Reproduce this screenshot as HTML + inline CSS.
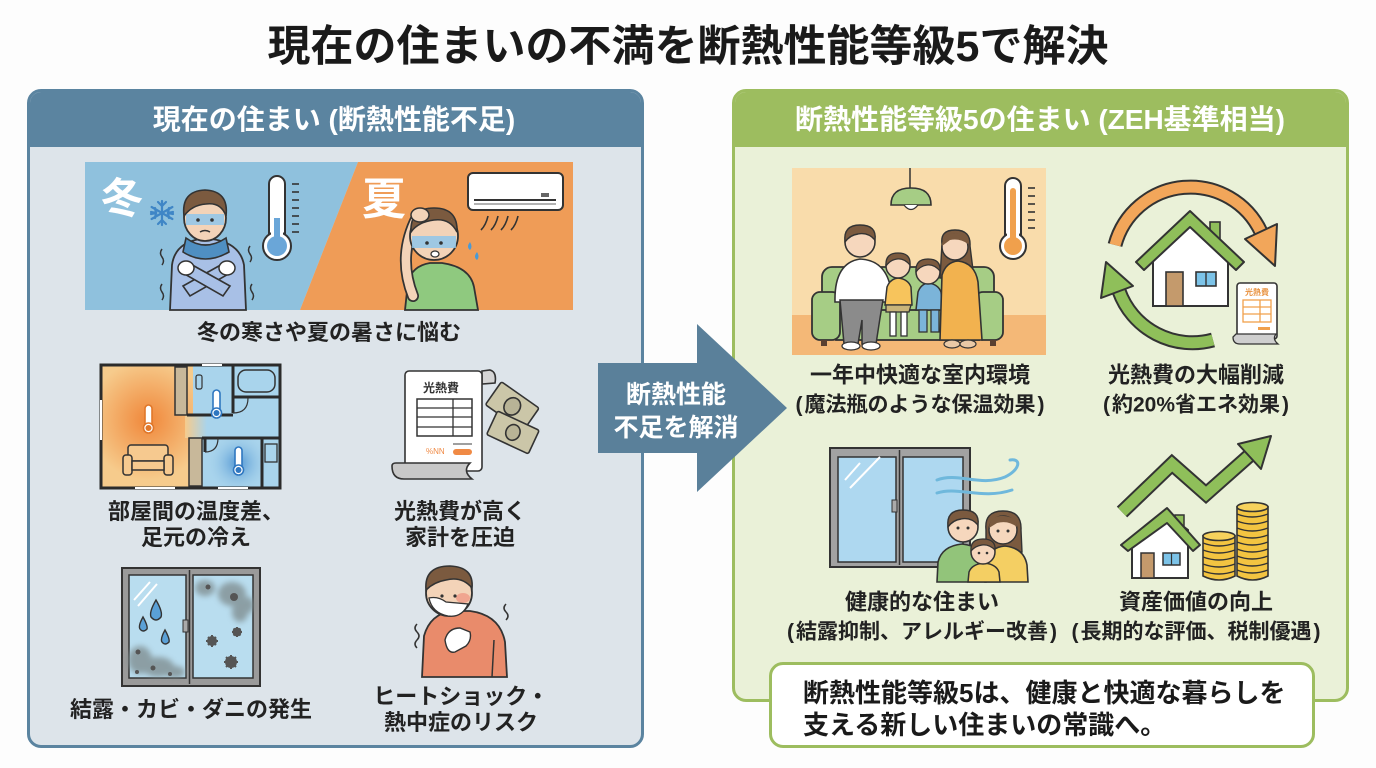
<!DOCTYPE html>
<html><head><meta charset="utf-8">
<style>
*{margin:0;padding:0;box-sizing:border-box}
body{width:1376px;height:768px;background:#fdfdfd;position:relative;overflow:hidden;font-family:"Liberation Sans","Noto Sans CJK JP",sans-serif;color:#222}
.t{position:absolute;transform:translate(-50%,-50%);text-align:center;font-weight:bold;white-space:nowrap}
.panel{position:absolute;border-radius:14px;overflow:hidden}
.p{margin:0 2px}
</style></head><body>

<div class="panel" style="left:27px;top:89px;width:617px;height:659px;border:3px solid #5b84a0;background:#dde4ea">
 <div style="height:55px;background:#5b84a0"></div>
</div>
<div class="panel" style="left:732px;top:89px;width:617px;height:613px;border:3px solid #9dbd5f;background:#eaf1d8">
 <div style="height:55px;background:#9dbd5f"></div>
</div>

<svg style="position:absolute;left:0;top:0" width="1376" height="768" viewBox="0 0 1376 768">
<defs>
 <radialGradient id="warm" gradientUnits="userSpaceOnUse" cx="148" cy="420" r="60">
  <stop offset="0" stop-color="#f0873a"/><stop offset="1" stop-color="#f6cb8c"/>
 </radialGradient>
 <radialGradient id="cold" gradientUnits="userSpaceOnUse" cx="238" cy="463" r="32">
  <stop offset="0" stop-color="#4d93d2"/><stop offset="1" stop-color="#a9d4ec" stop-opacity="0"/>
 </radialGradient>
 <linearGradient id="mid" x1="0" x2="1" y1="0" y2="0">
  <stop offset="0" stop-color="#f6cb8c"/><stop offset="1" stop-color="#a9d4ec"/>
 </linearGradient>
 <filter id="blur" x="-50%" y="-50%" width="200%" height="200%"><feGaussianBlur stdDeviation="3"/></filter>
</defs>

<!-- ===== Winter / Summer banner ===== -->
<polygon points="85,162 358,162 300,310 85,310" fill="#8fc1dd"/>
<polygon points="358,162 573,162 573,310 300,310" fill="#ef9c57"/>
<text x="122" y="213" text-anchor="middle" font-size="42" font-weight="bold" fill="#fff" font-family="Liberation Sans, Noto Sans CJK JP, sans-serif">冬</text>
<text x="384" y="214" text-anchor="middle" font-size="44" font-weight="bold" fill="#fff" font-family="Liberation Sans, Noto Sans CJK JP, sans-serif">夏</text>
<g stroke="#3f86c6" stroke-width="2.2" stroke-linecap="round" fill="none">
 <line x1="162" y1="201" x2="162" y2="225"/><line x1="151.6" y1="207" x2="172.4" y2="219"/><line x1="151.6" y1="219" x2="172.4" y2="207"/>
 <path d="M158,202 l4,4 l4,-4 M158,224 l4,-4 l4,4 M151,212 l5,1 l-1,-5 M173,212 l-5,1 l1,-5 M151,214 l5,-1 l-1,5 M173,214 l-5,-1 l1,5"/>
</g>
<!-- winter person -->
<path d="M170,310 L172,265 Q175,243 200,239 L212,239 Q240,243 244,265 L246,310 Z" fill="#a8c0e6" stroke="#333" stroke-width="1.8"/>
<path d="M183,286 L226,262 L232,272 L190,296 Z" fill="#a8c0e6" stroke="#333" stroke-width="1.6"/>
<path d="M230,286 L187,262 L181,272 L223,296 Z" fill="#a8c0e6" stroke="#333" stroke-width="1.6"/>
<ellipse cx="186" cy="268" rx="8" ry="7" fill="#fff" stroke="#333" stroke-width="1.5"/>
<ellipse cx="227" cy="268" rx="8" ry="7" fill="#fff" stroke="#333" stroke-width="1.5"/>
<path d="M186,238 Q205,252 226,238 L229,252 Q205,266 183,252 Z" fill="#4f8fc2" stroke="#333" stroke-width="1.6"/>
<ellipse cx="205" cy="218" rx="21" ry="23" fill="#f3d3b8" stroke="#333" stroke-width="1.8"/>
<rect x="186" y="214" width="38" height="11" fill="#8fc5ea" opacity="0.85"/>
<path d="M184,216 Q181,191 205,190 Q229,191 226,216 Q221,202 206,204 Q192,205 184,216 Z" fill="#7b5a3f" stroke="#333" stroke-width="1.6"/>
<circle cx="198" cy="220" r="1.8" fill="#333"/><circle cx="212" cy="220" r="1.8" fill="#333"/>
<path d="M200,232 Q205,229 210,232" fill="none" stroke="#333" stroke-width="1.5"/>
<g fill="none" stroke="#333" stroke-width="1.5"><path d="M162,265 q3,-4 0,-8 q-3,-4 0,-8"/><path d="M162,300 q3,-4 0,-8 q-3,-4 0,-8"/><path d="M252,300 q3,-4 0,-8 q-3,-4 0,-8"/><path d="M250,262 q3,-4 0,-8 q-3,-4 0,-8"/></g>
<!-- winter thermometer -->
<rect x="269" y="176" width="16" height="72" rx="8" fill="#fff" stroke="#333" stroke-width="2"/>
<circle cx="277" cy="246" r="14" fill="#fff" stroke="#333" stroke-width="2"/>
<rect x="271" y="230" width="12" height="12" fill="#fff"/>
<rect x="274" y="218" width="6" height="28" fill="#6aa6d8"/>
<circle cx="277" cy="246" r="10" fill="#6aa6d8"/>
<g stroke="#333" stroke-width="1.6"><line x1="292" y1="184" x2="299" y2="184"/><line x1="292" y1="192" x2="299" y2="192"/><line x1="292" y1="200" x2="299" y2="200"/><line x1="292" y1="208" x2="299" y2="208"/><line x1="292" y1="216" x2="299" y2="216"/><line x1="292" y1="224" x2="299" y2="224"/><line x1="292" y1="232" x2="299" y2="232"/></g>
<!-- summer person -->
<path d="M405,310 L408,282 Q412,266 430,263 L442,263 Q470,267 474,287 L478,310 Z" fill="#8fc97f" stroke="#333" stroke-width="1.8"/>
<path d="M413,296 Q397,256 417,217" fill="none" stroke="#333" stroke-width="12" stroke-linecap="round"/>
<path d="M413,296 Q397,256 417,217" fill="none" stroke="#f3d3b8" stroke-width="8.5" stroke-linecap="round"/>
<circle cx="434" cy="236" r="24" fill="#f3d3b8" stroke="#333" stroke-width="1.8"/>
<rect x="412" y="236" width="44" height="12" fill="#8fc5ea" opacity="0.85"/>
<path d="M411,232 Q410,208 434,208 Q458,208 457,232 Q450,218 434,220 Q418,222 411,232 Z" fill="#7b5a3f" stroke="#333" stroke-width="1.6"/>
<ellipse cx="420" cy="215" rx="9" ry="7" fill="#f3d3b8" stroke="#333" stroke-width="1.5"/>
<circle cx="427" cy="243" r="1.8" fill="#333"/><circle cx="441" cy="243" r="1.8" fill="#333"/>
<ellipse cx="435" cy="254" rx="4" ry="3" fill="#fff" stroke="#333" stroke-width="1.3"/>
<path d="M470,242 q3,5 0,8 q-4,-3 0,-8z" fill="#4a9ad6"/><path d="M477,252 q3,5 0,8 q-4,-3 0,-8z" fill="#4a9ad6"/>
<!-- AC -->
<rect x="468" y="173" width="95" height="37" rx="5" fill="#fff" stroke="#333" stroke-width="2"/>
<line x1="474" y1="200" x2="556" y2="200" stroke="#333" stroke-width="2"/>
<line x1="474" y1="204" x2="556" y2="204" stroke="#999" stroke-width="1.5"/>
<rect x="541" y="193" width="8" height="4" fill="#666"/>
<g fill="none" stroke="#333" stroke-width="1.6"><path d="M488,216 q-2,9 -7,14"/><path d="M498,216 q-2,9 -7,14"/><path d="M508,216 q-2,9 -7,14"/><path d="M518,216 q-2,9 -7,14"/></g>

<!-- ===== Floor plan ===== -->
<rect x="101" y="365" width="92" height="123" fill="url(#warm)"/>
<rect x="193" y="365" width="87" height="123" fill="#a9d4ec"/>
<rect x="185" y="415" width="22" height="23" fill="url(#mid)"/>
<rect x="200" y="438" width="70" height="50" fill="url(#cold)"/>
<rect x="175" y="367" width="12" height="48" fill="#c8b89a" stroke="#333" stroke-width="1.5"/>
<rect x="189" y="438" width="13" height="48" fill="#c8b89a" stroke="#333" stroke-width="1.5"/>
<g stroke="#2b2b2b" stroke-width="3" fill="none">
 <line x1="187" y1="415" x2="233" y2="415"/><line x1="233" y1="365" x2="233" y2="413"/>
 <line x1="233" y1="397" x2="280" y2="397"/><line x1="202" y1="438" x2="280" y2="438"/>
 <line x1="205" y1="438" x2="205" y2="452"/><line x1="262" y1="438" x2="262" y2="488"/>
</g>
<rect x="238" y="370" width="37" height="22" rx="8" fill="none" stroke="#333" stroke-width="1.5"/>
<rect x="265" y="444" width="12" height="18" fill="none" stroke="#333" stroke-width="1.3"/>
<rect x="196" y="375" width="6" height="14" rx="2" fill="none" stroke="#333" stroke-width="1.2"/>
<path d="M233,413 Q248,413 248,398" fill="none" stroke="#333" stroke-width="1.2"/>
<path d="M205,452 Q218,452 218,438" fill="none" stroke="#333" stroke-width="1.2"/>
<rect x="101" y="365" width="179" height="123" fill="none" stroke="#2b2b2b" stroke-width="3"/>
<g stroke="#fff" stroke-width="2"><line x1="202" y1="365" x2="222" y2="365"/><line x1="135" y1="488" x2="175" y2="488"/><line x1="101" y1="400" x2="101" y2="440"/><line x1="218" y1="488" x2="248" y2="488"/></g>
<g stroke-width="1.6">
 <rect x="145" y="405" width="7" height="22" rx="3.5" fill="#fff" stroke="#e0772a"/><circle cx="148.5" cy="428" r="5" fill="#fff" stroke="#e0772a"/><circle cx="148.5" cy="428" r="3" fill="#e0772a"/>
 <rect x="213" y="390" width="7" height="22" rx="3.5" fill="#fff" stroke="#2f77c0"/><circle cx="216.5" cy="413" r="5" fill="#fff" stroke="#2f77c0"/><circle cx="216.5" cy="413" r="3" fill="#2f77c0"/>
 <rect x="235" y="447" width="7" height="22" rx="3.5" fill="#fff" stroke="#2f77c0"/><circle cx="238.5" cy="470" r="5" fill="#fff" stroke="#2f77c0"/><circle cx="238.5" cy="470" r="3" fill="#2f77c0"/>
</g>
<g fill="#f6c98f" stroke="#333" stroke-width="1.5">
 <rect x="128" y="445" width="40" height="16" rx="3"/>
 <rect x="123" y="455" width="9" height="20" rx="3"/><rect x="164" y="455" width="9" height="20" rx="3"/>
 <rect x="132" y="461" width="32" height="9"/>
</g>

<!-- ===== Bill ===== -->
<g stroke="#333" stroke-width="1.6">
 <g transform="rotate(35 512 405)"><rect x="490" y="392" width="46" height="28" rx="2" fill="#cbc6a8"/><ellipse cx="513" cy="406" rx="8" ry="9" fill="#b8b396"/></g>
 <g transform="rotate(25 512 432)"><rect x="490" y="419" width="46" height="26" rx="2" fill="#cbc6a8"/><ellipse cx="513" cy="432" rx="7" ry="8" fill="#b8b396"/></g>
 <path d="M482,371 L490,370 Q497,372 495,383 L482,384 Z" fill="#d5d5d5"/>
 <rect x="405" y="371" width="77" height="100" rx="4" fill="#fff"/>
 <path d="M392,466 Q392,479 404,479 L472,479 Q462,471 470,463 L396,463 Q392,463 392,466 Z" fill="#c8c8c8"/>
 <rect x="417" y="399" width="55" height="37" fill="#fff" stroke-width="1.5"/>
 <g stroke-width="1.3"><line x1="417" y1="408" x2="472" y2="408"/><line x1="417" y1="417" x2="472" y2="417"/><line x1="417" y1="427" x2="472" y2="427"/><line x1="453" y1="399" x2="453" y2="436"/></g>
</g>
<text x="441" y="392" text-anchor="middle" font-size="12" font-weight="bold" fill="#333" font-family="Liberation Sans, Noto Sans CJK JP, sans-serif">光熱費</text>
<text x="426" y="454" font-size="8" fill="#f08a45" font-family="Liberation Sans, sans-serif">%NN</text>
<line x1="453" y1="444" x2="472" y2="444" stroke="#666" stroke-width="1.2"/>
<rect x="453" y="449" width="19" height="6" rx="3" fill="#f08a45"/>

<!-- ===== Window (mold) ===== -->
<rect x="122" y="568" width="138" height="118" fill="#9a9a9a" stroke="#333" stroke-width="2"/>
<rect x="129" y="575" width="57" height="103" fill="#b9ddef" stroke="#333" stroke-width="1.5"/>
<rect x="193" y="575" width="60" height="103" fill="#b9ddef" stroke="#333" stroke-width="1.5"/>
<line x1="189.5" y1="570" x2="189.5" y2="684" stroke="#333" stroke-width="1.5"/>
<rect x="183" y="620" width="5" height="12" fill="#aaa" stroke="#333" stroke-width="1"/>
<g filter="url(#blur)" fill="#7d8a8c" opacity="0.75">
 <ellipse cx="140" cy="660" rx="12" ry="14"/><ellipse cx="158" cy="667" rx="16" ry="10"/><ellipse cx="175" cy="672" rx="10" ry="6"/>
 <ellipse cx="205" cy="588" rx="10" ry="8"/><ellipse cx="232" cy="594" rx="14" ry="12"/><ellipse cx="240" cy="612" rx="8" ry="10"/><ellipse cx="248" cy="605" rx="6" ry="8"/>
</g>
<g fill="#555"><circle cx="138" cy="652" r="2.5"/><circle cx="153" cy="668" r="2.5"/><circle cx="137" cy="672" r="2"/><circle cx="170" cy="674" r="2"/><circle cx="208" cy="587" r="2.5"/><circle cx="234" cy="597" r="4"/></g>
<g stroke="#fff" stroke-width="2"><line x1="134" y1="600" x2="150" y2="582"/><line x1="138" y1="606" x2="157" y2="584"/></g>
<g fill="#5aa0d6" stroke="#333" stroke-width="1.4">
 <path d="M156,600 Q149,612 151,617 Q156,623 161,617 Q163,612 156,600 Z"/>
 <path d="M143,617 Q138,626 140,629 Q143,633 147,629 Q148,626 143,617 Z"/>
 <path d="M165,630 Q160,639 162,642 Q165,646 169,642 Q170,639 165,630 Z"/>
</g>
<g stroke="#555" stroke-width="2" fill="#555">
 <circle cx="212" cy="641" r="4"/><path d="M206,641 h12 M212,635 v12 M208,637 l8,8 M216,637 l-8,8"/>
 <circle cx="237" cy="632" r="3.5"/><path d="M232,632 h10 M237,627 v10 M233.5,628.5 l7,7 M240.5,628.5 l-7,7"/>
 <circle cx="231" cy="662" r="5"/><path d="M224,662 h14 M231,655 v14 M226,657 l10,10 M236,657 l-10,10"/>
</g>

<!-- ===== Sick person ===== -->
<path d="M422,677 L424,636 Q430,614 452,611 L470,611 Q500,615 505,642 L507,677 Z" fill="#e98b6b" stroke="#333" stroke-width="1.8"/>
<line x1="494" y1="640" x2="492" y2="677" stroke="#333" stroke-width="1.5"/>
<circle cx="449" cy="593" r="23" fill="#f3d3b8" stroke="#333" stroke-width="1.8"/>
<ellipse cx="463" cy="598" rx="7" ry="5" fill="#ef9a86" opacity="0.8"/>
<path d="M426,590 Q424,566 450,566 Q474,567 472,588 Q462,576 446,580 Q434,582 426,590 Z" fill="#7b5a3f" stroke="#333" stroke-width="1.6"/>
<path d="M429,598 Q438,596 446,602 L468,604 Q462,618 448,616 Q432,613 429,598 Z" fill="#fff" stroke="#333" stroke-width="1.3"/>
<circle cx="442" cy="596" r="1.6" fill="#333"/><circle cx="455" cy="596" r="1.6" fill="#333"/>
<path d="M445,640 Q448,628 460,628 L470,632 Q472,640 466,646 L455,652 Q447,654 445,640 Z" fill="#fff" stroke="#333" stroke-width="1.4"/>
<g fill="none" stroke="#333" stroke-width="1.5"><path d="M417,648 q-4,-4 0,-8 q4,-4 0,-8 q-4,-4 0,-8"/><path d="M506,620 q4,-4 0,-8 q-4,-4 0,-8"/></g>

<!-- ===== Family living room ===== -->
<rect x="792" y="168" width="254" height="187" fill="#f9dcab"/>
<rect x="792" y="315" width="254" height="40" fill="#f4b877"/>
<line x1="910" y1="168" x2="910" y2="190" stroke="#333" stroke-width="1.5"/>
<path d="M891,205 Q891,188 911,188 Q931,188 931,205 Z" fill="#a6cd85" stroke="#333" stroke-width="1.6"/>
<path d="M904,205 Q911,214 918,205" fill="#fff" stroke="#333" stroke-width="1.3"/>
<rect x="1005" y="178" width="16" height="70" rx="8" fill="#fff" stroke="#333" stroke-width="2"/>
<circle cx="1013" cy="246" r="13" fill="#fff" stroke="#333" stroke-width="2"/>
<rect x="1007" y="230" width="12" height="12" fill="#fff"/>
<rect x="1010" y="188" width="6" height="56" rx="3" fill="#f0a04c"/>
<circle cx="1013" cy="246" r="9" fill="#f0a04c"/>
<g stroke="#333" stroke-width="1.6"><line x1="1028" y1="188" x2="1035" y2="188"/><line x1="1028" y1="196" x2="1035" y2="196"/><line x1="1028" y1="204" x2="1035" y2="204"/><line x1="1028" y1="212" x2="1035" y2="212"/><line x1="1028" y1="220" x2="1035" y2="220"/><line x1="1028" y1="228" x2="1035" y2="228"/></g>
<g fill="#a6cd85" stroke="#333" stroke-width="1.8">
 <rect x="822" y="267" width="172" height="50" rx="10"/>
 <rect x="836" y="310" width="143" height="30"/>
 <rect x="812" y="292" width="28" height="48" rx="8"/>
 <rect x="975" y="292" width="28" height="48" rx="8"/>
</g>
<rect x="821" y="340" width="6" height="6" fill="#5a4030"/><rect x="990" y="340" width="6" height="6" fill="#5a4030"/>
<path d="M835,302 Q834,263 860,259 Q884,260 890,285 L888,302 Z" fill="#fff" stroke="#333" stroke-width="1.6"/>
<path d="M840,300 L883,300 L880,318 L876,344 L862,344 L862,320 L858,344 L844,344 Z" fill="#8b8b8b" stroke="#333" stroke-width="1.5"/>
<ellipse cx="851" cy="346" rx="9" ry="4" fill="#fff" stroke="#333" stroke-width="1.3"/><ellipse cx="871" cy="346" rx="9" ry="4" fill="#fff" stroke="#333" stroke-width="1.3"/>
<circle cx="860" cy="242" r="15" fill="#f6d7bd" stroke="#333" stroke-width="1.6"/>
<path d="M845,242 Q843,225 860,225 Q877,225 875,240 Q868,232 858,234 Q850,235 845,242 Z" fill="#7b5a3f" stroke="#333" stroke-width="1.4"/>
<path d="M885,305 L887,287 Q890,279 898,278 Q908,279 911,287 L912,305 Z" fill="#f7c45c" stroke="#333" stroke-width="1.5"/>
<path d="M886,305 L911,305 L909,312 L886,312 Z" fill="#c9b57a" stroke="#333" stroke-width="1.3"/>
<g stroke="#333" stroke-width="1.3" fill="#fff"><rect x="890" y="312" width="6" height="24"/><rect x="901" y="312" width="6" height="24"/></g>
<circle cx="898" cy="266" r="12" fill="#f6d7bd" stroke="#333" stroke-width="1.5"/>
<path d="M886,266 Q885,253 898,253 Q911,253 910,265 Q904,258 897,259 Q890,260 886,266 Z" fill="#7b5a3f" stroke="#333" stroke-width="1.3"/>
<path d="M916,310 L918,292 Q921,284 928,283 Q938,284 941,292 L943,310 Z" fill="#7bb4d9" stroke="#333" stroke-width="1.5"/>
<g stroke="#333" stroke-width="1.3" fill="#7bb4d9"><rect x="919" y="310" width="8" height="22"/><rect x="931" y="310" width="8" height="22"/></g>
<circle cx="928" cy="272" r="12" fill="#f6d7bd" stroke="#333" stroke-width="1.5"/>
<path d="M916,272 Q915,259 928,259 Q941,259 940,271 Q934,264 927,265 Q920,266 916,272 Z" fill="#7b5a3f" stroke="#333" stroke-width="1.3"/>
<path d="M942,244 Q940,230 955,230 Q971,230 970,246 L974,278 L940,278 Z" fill="#7b5a3f" stroke="#333" stroke-width="1.4"/>
<path d="M940,340 L942,275 Q946,262 958,261 Q975,263 978,282 L982,340 Z" fill="#f2b24f" stroke="#333" stroke-width="1.6"/>
<ellipse cx="952" cy="344" rx="8" ry="4" fill="#e9c9a6" stroke="#333" stroke-width="1.2"/><ellipse cx="968" cy="344" rx="8" ry="4" fill="#e9c9a6" stroke="#333" stroke-width="1.2"/>
<circle cx="955" cy="247" r="13" fill="#f6d7bd" stroke="#333" stroke-width="1.5"/>
<path d="M942,246 Q942,233 956,233 Q969,234 968,244 Q960,238 950,240 Z" fill="#7b5a3f"/>

<!-- ===== Cycle icon ===== -->
<path d="M1115,245 A78,78 0 0 1 1261,232" fill="none" stroke="#333" stroke-width="15"/>
<path d="M1115,245 A78,78 0 0 1 1261,232" fill="none" stroke="#f2a65a" stroke-width="11"/>
<polygon points="1277,224 1245,239 1275,266" fill="#f2a65a" stroke="#333" stroke-width="2" stroke-linejoin="round"/>
<path d="M1213,340 A78,78 0 0 1 1119,291" fill="none" stroke="#333" stroke-width="15"/>
<path d="M1213,340 A78,78 0 0 1 1119,291" fill="none" stroke="#8fbf5a" stroke-width="11"/>
<polygon points="1101,298 1133,286 1106,262" fill="#8fbf5a" stroke="#333" stroke-width="2" stroke-linejoin="round"/>
<rect x="1210" y="222" width="10" height="22" fill="#8fbf5a" stroke="#333" stroke-width="1.6"/>
<polygon points="1153,252 1190,221 1228,252 1228,306 1153,306" fill="#fff" stroke="#333" stroke-width="2"/>
<polygon points="1136,262 1190,211 1244,262 1236,270 1190,227 1144,270" fill="#8fbf5a" stroke="#333" stroke-width="2" stroke-linejoin="round"/>
<rect x="1166" y="272" width="17" height="34" fill="#c49a6c" stroke="#333" stroke-width="1.6"/>
<rect x="1196" y="272" width="20" height="14" fill="#7cc3e8" stroke="#333" stroke-width="1.6"/>
<line x1="1206" y1="272" x2="1206" y2="286" stroke="#333" stroke-width="1.4"/>
<rect x="1237" y="283" width="40" height="56" rx="3" fill="#fff" stroke="#333" stroke-width="1.6"/>
<path d="M1233,337 Q1233,344 1240,344 L1278,344 Q1272,339 1276,334 L1236,334 Z" fill="#cfcfcf" stroke="#333" stroke-width="1.3"/>
<text x="1257" y="295" text-anchor="middle" font-size="8" font-weight="bold" fill="#e8903c" font-family="Liberation Sans, Noto Sans CJK JP, sans-serif">光熱費</text>
<g stroke="#f0a04c" stroke-width="1.3" fill="none"><rect x="1243" y="300" width="28" height="22"/><line x1="1243" y1="307" x2="1271" y2="307"/><line x1="1243" y1="314" x2="1271" y2="314"/><line x1="1260" y1="300" x2="1260" y2="322"/></g>
<rect x="1258" y="327" width="12" height="3" fill="#f0a04c"/>

<!-- ===== Window + family (right) ===== -->
<rect x="830" y="448" width="140" height="119" fill="#a2a2a2" stroke="#333" stroke-width="2"/>
<rect x="838" y="457" width="58" height="105" fill="#aed8f0" stroke="#333" stroke-width="1.5"/>
<rect x="903" y="457" width="60" height="105" fill="#aed8f0" stroke="#333" stroke-width="1.5"/>
<line x1="899.5" y1="450" x2="899.5" y2="565" stroke="#333" stroke-width="1.5"/>
<rect x="892" y="500" width="5" height="12" fill="#aaa" stroke="#333" stroke-width="1"/>
<g stroke="#fff" stroke-width="2"><line x1="845" y1="480" x2="860" y2="463"/><line x1="850" y1="488" x2="880" y2="457"/></g>
<g fill="none" stroke="#6fb8dc" stroke-width="3" stroke-linecap="round">
 <path d="M937,480 C958,472 980,487 1005,477 C1020,470 1022,458 1010,460"/>
 <path d="M937,493 C958,486 982,500 1012,490"/>
</g>
<path d="M937,582 L938,562 Q942,546 962,544 Q982,546 986,562 L986,582 Z" fill="#92c47a" stroke="#333" stroke-width="1.6"/>
<circle cx="963" cy="527" r="15" fill="#f6d7bd" stroke="#333" stroke-width="1.6"/>
<path d="M948,527 Q946,510 963,510 Q980,510 978,525 Q971,517 961,519 Q953,520 948,527 Z" fill="#7b5a3f" stroke="#333" stroke-width="1.4"/>
<path d="M986,530 Q984,511 1003,511 Q1022,511 1021,530 L1022,552 L986,552 Z" fill="#7b5a3f" stroke="#333" stroke-width="1.4"/>
<path d="M985,582 L986,562 Q990,547 1005,546 Q1024,548 1027,565 L1028,582 Z" fill="#f4cf63" stroke="#333" stroke-width="1.6"/>
<circle cx="1003" cy="530" r="14" fill="#f6d7bd" stroke="#333" stroke-width="1.5"/>
<path d="M989,528 Q990,515 1004,516 Q1017,517 1017,527 Q1008,520 997,523 Z" fill="#7b5a3f"/>
<path d="M968,582 L969,572 Q972,564 984,563 Q996,564 999,572 L1000,582 Z" fill="#f4cf63" stroke="#333" stroke-width="1.5"/>
<circle cx="983" cy="552" r="12" fill="#f6d7bd" stroke="#333" stroke-width="1.5"/>
<path d="M971,551 Q970,539 983,539 Q996,539 995,550 Q989,544 982,545 Q975,546 971,551 Z" fill="#7b5a3f" stroke="#333" stroke-width="1.3"/>
<g fill="#333"><circle cx="958" cy="528" r="1.5"/><circle cx="968" cy="528" r="1.5"/><circle cx="998" cy="531" r="1.5"/><circle cx="1008" cy="531" r="1.5"/><circle cx="979" cy="553" r="1.3"/><circle cx="987" cy="553" r="1.3"/></g>

<!-- ===== Graph house coins ===== -->
<polyline points="1122,512 1172,464 1206,494 1250,455" fill="none" stroke="#333" stroke-width="15" stroke-linejoin="miter"/>
<polyline points="1122,512 1172,464 1206,494 1250,455" fill="none" stroke="#8fbf5a" stroke-width="11" stroke-linejoin="miter"/>
<polygon points="1271,436 1261,469 1238,444" fill="#8fbf5a" stroke="#333" stroke-width="2" stroke-linejoin="round"/>
<rect x="1175" y="515" width="9" height="18" fill="#8fbf5a" stroke="#333" stroke-width="1.5"/>
<polygon points="1132,540 1167,514 1188,530 1188,578 1132,578" fill="#fff" stroke="#333" stroke-width="2"/>
<polygon points="1121,545 1167,508 1200,545 1193,551 1167,523 1128,551" fill="#8fbf5a" stroke="#333" stroke-width="2" stroke-linejoin="round"/>
<rect x="1141" y="553" width="13" height="25" fill="#c49a6c" stroke="#333" stroke-width="1.5"/>
<rect x="1163" y="553" width="17" height="12" fill="#7cc3e8" stroke="#333" stroke-width="1.5"/>
<line x1="1171.5" y1="553" x2="1171.5" y2="565" stroke="#333" stroke-width="1.2"/>
<path d="M1203,536 L1203,576 Q1219,584 1235,576 L1235,536 Z" fill="#f3c441" stroke="#333" stroke-width="1.6"/>
<g fill="none" stroke="#333" stroke-width="1.4"><path d="M1203,543 Q1219,549 1235,543"/><path d="M1203,550 Q1219,556 1235,550"/><path d="M1203,557 Q1219,563 1235,557"/><path d="M1203,564 Q1219,570 1235,564"/><path d="M1203,571 Q1219,577 1235,571"/></g>
<ellipse cx="1219" cy="536" rx="16" ry="4.5" fill="#f7d25c" stroke="#333" stroke-width="1.6"/>
<path d="M1237,507 L1237,576 Q1252.5,584 1268,576 L1268,507 Z" fill="#f3c441" stroke="#333" stroke-width="1.6"/>
<g fill="none" stroke="#333" stroke-width="1.4"><path d="M1237,514 Q1252,520 1268,514"/><path d="M1237,521 Q1252,527 1268,521"/><path d="M1237,528 Q1252,534 1268,528"/><path d="M1237,535 Q1252,541 1268,535"/><path d="M1237,542 Q1252,548 1268,542"/><path d="M1237,549 Q1252,555 1268,549"/><path d="M1237,556 Q1252,562 1268,556"/><path d="M1237,563 Q1252,569 1268,563"/><path d="M1237,570 Q1252,576 1268,570"/></g>
<ellipse cx="1252.5" cy="507" rx="15.5" ry="4.5" fill="#f7d25c" stroke="#333" stroke-width="1.6"/>

<!-- ===== Middle arrow ===== -->
<polygon points="598,363 697,363 697,324 787,408 697,492 697,453 598,453" fill="#5a809a"/>
</svg>

<div class="t" style="left:688px;top:47px;font-size:43px;color:#1a1a1a;line-height:50px">現在の住まいの不満を断熱性能等級5で解決</div>

<div class="t" style="left:334px;top:120px;font-size:28px;color:#fff;line-height:34px">現在の住まい (断熱性能不足)</div>
<div class="t" style="left:1040px;top:120px;font-size:28px;color:#fff;line-height:34px">断熱性能等級5の住まい (ZEH基準相当)</div>

<div class="t" style="left:329px;top:333px;font-size:22px;line-height:26px">冬の寒さや夏の暑さに悩む</div>
<div class="t" style="left:196px;top:525px;font-size:22px;line-height:26px">部屋間の温度差、<br>足元の冷え</div>
<div class="t" style="left:460px;top:525px;font-size:22px;line-height:26px">光熱費が高く<br>家計を圧迫</div>
<div class="t" style="left:191px;top:710px;font-size:22px;line-height:26px">結露・カビ・ダニの発生</div>
<div class="t" style="left:461px;top:710px;font-size:22px;line-height:26px">ヒートショック・<br>熱中症のリスク</div>

<div class="t" style="left:676px;top:412px;font-size:25px;line-height:33px;color:#fff">断熱性能<br>不足を解消</div>

<div class="t" style="left:920px;top:391px;line-height:27px"><span style="font-size:22px">一年中快適な室内環境</span><br><span style="font-size:21px"><span class="p">(</span>魔法瓶のような保温効果<span class="p">)</span></span></div>
<div class="t" style="left:1196px;top:391px;line-height:27px"><span style="font-size:22px">光熱費の大幅削減</span><br><span style="font-size:21px"><span class="p">(</span>約20%省エネ効果<span class="p">)</span></span></div>
<div class="t" style="left:922px;top:618px;line-height:27px"><span style="font-size:22px">健康的な住まい</span><br><span style="font-size:21px"><span class="p">(</span>結露抑制、アレルギー改善<span class="p">)</span></span></div>
<div class="t" style="left:1196px;top:618px;line-height:27px"><span style="font-size:22px">資産価値の向上</span><br><span style="font-size:21px"><span class="p">(</span>長期的な評価、税制優遇<span class="p">)</span></span></div>

<div style="position:absolute;left:769px;top:662px;width:546px;height:86px;border:3px solid #9dbd5f;border-radius:14px;background:#fff"></div>
<div style="position:absolute;left:803px;top:677px;font-size:26px;line-height:32px;font-weight:bold;color:#1a1a1a;white-space:nowrap">断熱性能等級5は、健康と快適な暮らしを<br>支える新しい住まいの常識へ。</div>

</body></html>
